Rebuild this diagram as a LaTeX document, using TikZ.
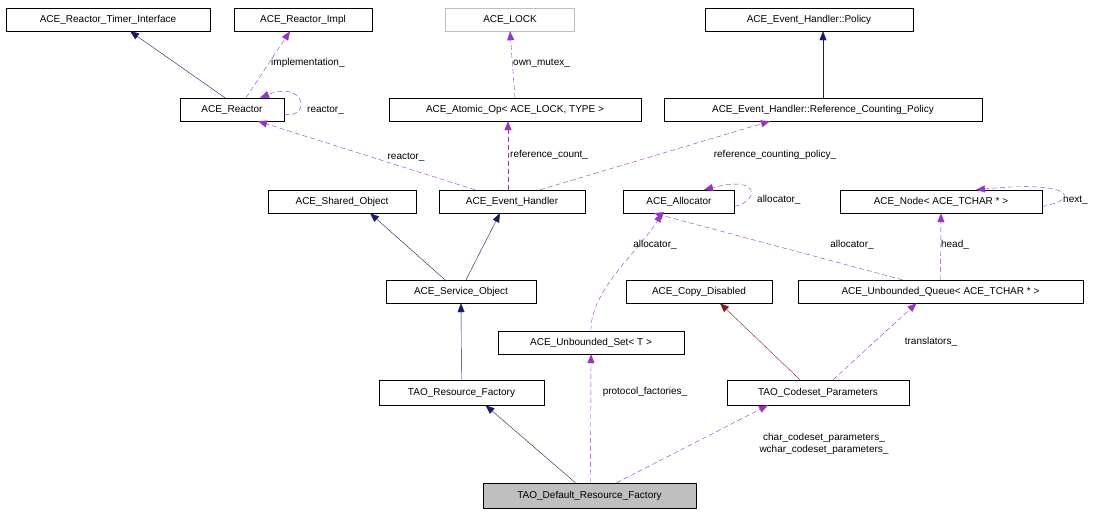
\documentclass[tikz,border=0pt]{standalone}
\usepackage{fontspec}
\setmainfont{Liberation Sans}
\usetikzlibrary{arrows.meta}
\definecolor{inh}{RGB}{25,25,112}
\definecolor{use}{RGB}{153,50,204}
\definecolor{prv}{RGB}{139,26,26}
\begin{document}
\begin{tikzpicture}[x=1pt,y=-1pt,
 box/.style={draw=black,fill=white,minimum height=23pt,inner sep=0pt,text height=7.5pt,text depth=2pt,font=\fontsize{10}{12}\selectfont},
 lbl/.style={font=\fontsize{10}{12}\selectfont,inner sep=1pt,align=left},
 inhe/.style={draw=inh,arrows={-{Triangle[length=9pt,width=7pt,fill=inh]}}},
 prve/.style={draw=prv,arrows={-{Triangle[length=9pt,width=7pt,fill=prv]}}},
 usee/.style={draw=use,dash pattern=on 5pt off 3pt,arrows={-{Triangle[length=9pt,width=7pt,fill=use]}}}]
\useasboundingbox[fill=white] (0,0) rectangle (1103,515);
\node[box,minimum width=204pt] (rti) at (108,19.5) {ACE\_Reactor\_Timer\_Interface};
\node[box,minimum width=138pt] (rimpl) at (303,19.5) {ACE\_Reactor\_Impl};
\node[box,minimum width=129pt,draw={rgb,255:red,191;green,191;blue,191}] (lock) at (510,19.5) {ACE\_LOCK};
\node[box,minimum width=208pt] (pol) at (809,19.5) {ACE\_Event\_Handler::Policy};
\node[box,minimum width=104pt] (reac) at (232,109.5) {ACE\_Reactor};
\node[box,minimum width=252pt] (atom) at (515,109.5) {ACE\_Atomic\_Op< ACE\_LOCK, TYPE >};
\node[box,minimum width=318pt] (rcp) at (823,109.5) {ACE\_Event\_Handler::Reference\_Counting\_Policy};
\node[box,minimum width=148pt] (so) at (342,201.5) {ACE\_Shared\_Object};
\node[box,minimum width=146pt] (eh) at (512,201.5) {ACE\_Event\_Handler};
\node[box,minimum width=111pt] (alloc) at (679,201.5) {ACE\_Allocator};
\node[box,minimum width=202pt] (node) at (941,201.5) {ACE\_Node< ACE\_TCHAR * >};
\node[box,minimum width=150pt] (svc) at (461,291.5) {ACE\_Service\_Object};
\node[box,minimum width=146pt] (cd) at (699,291.5) {ACE\_Copy\_Disabled};
\node[box,minimum width=285pt] (q) at (940.5,291.5) {ACE\_Unbounded\_Queue< ACE\_TCHAR * >};
\node[box,minimum width=186pt] (us) at (591,342.5) {ACE\_Unbounded\_Set< T >};
\node[box,minimum width=165pt,minimum height=25pt] (trf) at (461.5,392.5) {TAO\_Resource\_Factory};
\node[box,minimum width=182pt,minimum height=25pt] (cp) at (818,392.5) {TAO\_Codeset\_Parameters};
\node[box,minimum width=213pt,minimum height=25pt,fill={rgb,255:red,191;green,191;blue,191}] (drf) at (589.5,495.5) {TAO\_Default\_Resource\_Factory};
% inheritance
\draw[inhe] ([xshift=-7pt]reac.north) -- ([xshift=22pt]rti.south);
\draw[inhe] (rcp.north) -- ([xshift=14pt]pol.south);
\draw[inhe] ([xshift=-16pt]svc.north) -- ([xshift=28pt]so.south);
\draw[inhe] ([xshift=5pt]svc.north) -- ([xshift=-12pt]eh.south);
\draw[inhe] (trf.north) -- (svc.south);
\draw[inhe] ([xshift=-14pt]drf.north) -- ([xshift=24pt]trf.south);
\draw[prve] ([xshift=-18pt]cp.north) -- ([xshift=21pt]cd.south);
% usage
\draw[usee] ([xshift=14pt]reac.north) -- ([xshift=-13pt]rimpl.south);
\node[lbl,right] at (270,63) {implementation\_};
\draw[usee] ([yshift=-5pt]reac.east) .. controls (312,118) and (305,80) .. ([xshift=28pt]reac.north);
\node[lbl,right] at (306,110) {reactor\_};
\draw[usee] (atom.north) -- (lock.south);
\node[lbl,right] at (512,63) {own\_mutex\_};
\draw[usee] ([xshift=-37pt]eh.north) -- ([xshift=26pt]reac.south);
\node[lbl] at (406,157) {reactor\_};
\draw[usee] ([xshift=-4pt]eh.north) -- ([xshift=-7pt]atom.south);
\node[lbl,right] at (509,155) {reference\_count\_};
\draw[usee] ([xshift=28pt]eh.north) -- ([xshift=-53pt]rcp.south);
\node[lbl] at (775,155) {reference\_counting\_policy\_};
\draw[usee] ([yshift=-5pt]alloc.east) .. controls (760,200) and (760,175) .. ([xshift=25pt]alloc.north);
\node[lbl,right] at (756,200) {allocator\_};
\draw[usee] ([yshift=-5pt]node.east) .. controls (1080,200) and (1075,180) .. ([xshift=35pt]node.north);
\node[lbl,right] at (1062,200) {next\_};
\draw[usee] (us.north) .. controls (590,290) and (640,250) .. ([xshift=-17pt]alloc.south);
\node[lbl] at (655,245) {allocator\_};
\draw[usee] ([xshift=-38pt]q.north) -- ([xshift=-25pt]alloc.south);
\node[lbl] at (852,245) {allocator\_};
\draw[usee] (q.north) -- (node.south);
\node[lbl] at (955,245) {head\_};
\draw[usee] ([xshift=15pt]cp.north) -- ([xshift=-24pt]q.south);
\node[lbl] at (931,342) {translators\_};
\draw[usee] ([xshift=1pt]drf.north) -- (us.south);
\node[lbl] at (645,392) {protocol\_factories\_};
\draw[usee] ([xshift=27pt]drf.north) -- ([xshift=-50pt]cp.south);
\node[lbl,align=center] at (824,444) {char\_codeset\_parameters\_\\wchar\_codeset\_parameters\_};
\end{tikzpicture}
\end{document}
